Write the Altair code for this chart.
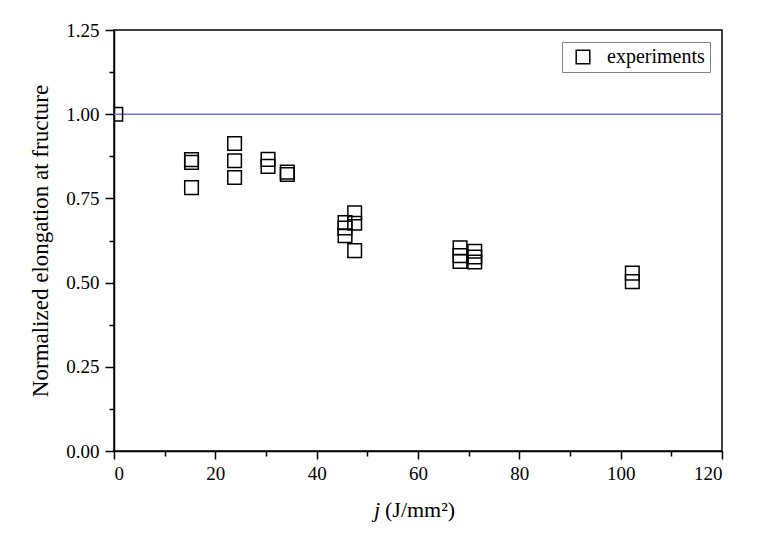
import altair as alt
import pandas as pd

# data
j_vals = [0.35, 15.3, 15.3, 15.3, 23.8, 23.8, 23.8, 30.4, 30.4, 34.2, 34.2,
          45.6, 45.6, 45.6, 47.5, 47.5, 47.5, 68.3, 68.3, 68.3, 71.2, 71.2, 71.2,
          102.3, 102.3]
elong_vals = [1.00, 0.865, 0.857, 0.782, 0.913, 0.862, 0.812, 0.866, 0.845, 0.828, 0.821,
              0.678, 0.662, 0.639, 0.707, 0.676, 0.595, 0.603, 0.580, 0.563, 0.593, 0.576, 0.561,
              0.528, 0.503]
series_name = "experiments"
ref_line = [1.0]
x_ticks = [0, 10, 20, 30, 40, 50, 60, 70, 80, 90, 100, 110, 120]
y_ticks = [0, 0.125, 0.25, 0.375, 0.5, 0.625, 0.75, 0.875, 1.0, 1.125, 1.25]

W, H = 608, 421
FONT = "Liberation Serif"

df = pd.DataFrame({"j": j_vals, "e": elong_vals, "s": [series_name] * len(j_vals)})
ref = pd.DataFrame({"y": ref_line})

x_enc = alt.X("j:Q", scale=alt.Scale(domain=[0, 120], nice=False, zero=False),
              axis=alt.Axis(values=x_ticks, title=None, grid=False,
                            labelExpr="datum.value % 20 === 0 ? datum.label : ''",
                            tickSize={"condition": {"test": "datum.value % 20 === 0", "value": 8}, "value": 5},
                            labelPadding=5))
y_enc = alt.Y("e:Q", scale=alt.Scale(domain=[0, 1.25], nice=False, zero=False),
              axis=alt.Axis(values=y_ticks, title="Normalized elongation at fructure", grid=False,
                            format=".2f",
                            labelExpr="abs(datum.value / 0.25 - round(datum.value / 0.25)) < 1e-6 ? datum.label : ''",
                            tickSize={"condition": {"test": "abs(datum.value / 0.25 - round(datum.value / 0.25)) < 1e-6", "value": 9}, "value": 5},
                            labelPadding=6, titlePadding=13))

line = alt.Chart(ref).mark_rule(color="#6e6ef0", strokeWidth=1.6).encode(
    y=alt.Y("y:Q", scale=alt.Scale(domain=[0, 1.25], nice=False, zero=False))
)

points = alt.Chart(df).mark_point(shape="square", filled=False, color="black",
                                  strokeWidth=1.5, size=185, clip=True, opacity=1).encode(
    x=x_enc, y=y_enc,
    shape=alt.Shape("s:N", scale=alt.Scale(range=["square"]),
                    legend=alt.Legend(title=None, orient="top-right", offset=12,
                                      strokeColor="#808080", padding=5,
                                      symbolOffset=6, labelOffset=14,
                                      symbolSize=185, symbolStrokeWidth=1.5,
                                      symbolStrokeColor="black", symbolFillColor="transparent",
                                      labelFont=FONT, labelFontSize=20, labelColor="black"))
)

title_j = alt.Chart(pd.DataFrame({"t": ["j"]})).mark_text(
    font=FONT, fontSize=22, fontStyle="italic", align="left", baseline="alphabetic", color="black"
).encode(text="t:N", x=alt.value(260), y=alt.value(H + 66))
title_rest = alt.Chart(pd.DataFrame({"t": ["(J/mm\u00b2)"]})).mark_text(
    font=FONT, fontSize=22, align="left", baseline="alphabetic", color="black"
).encode(text="t:N", x=alt.value(271), y=alt.value(H + 66))

chart = alt.layer(line, points, title_j, title_rest).properties(
    width=W, height=H,
    autosize=alt.AutoSizeParams(type="none"),
    padding={"left": 114, "top": 30, "right": 35, "bottom": 97},
).configure_view(stroke="black", strokeWidth=1.5).configure_axis(
    domainColor="black", domainWidth=1.5, tickColor="black", tickWidth=1.5,
    labelFont=FONT, labelFontSize=19, labelColor="black",
    titleFont=FONT, titleFontSize=23, titleFontWeight="normal", titleColor="black"
)

chart.save("out.html", embed_options={"renderer": "svg", "actions": False})
